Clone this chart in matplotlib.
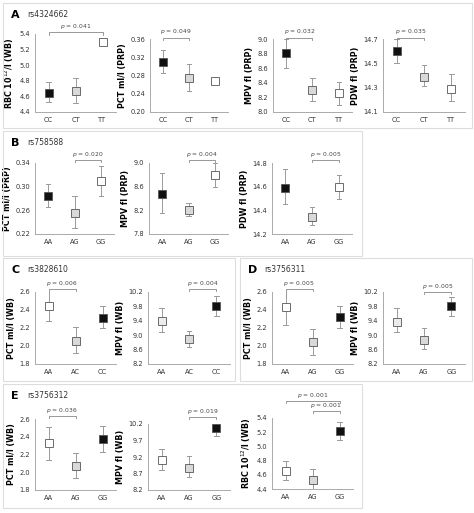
import matplotlib
matplotlib.use("Agg")
import matplotlib.pyplot as plt
from matplotlib.patches import Rectangle

W, H = 474, 513
fig = plt.figure(figsize=(W/100, H/100), dpi=100)
fig.patch.set_facecolor("white")

BLACK, GREY, WHITE = "#111111", "#d9d9d9", "#ffffff"

# ---- data: (means, lows, highs, colours) ----
A_cats = ["CC", "CT", "TT"]
A_rbc_mean = [4.65, 4.67, 5.30]; A_rbc_lo = [4.53, 4.52, 5.30]; A_rbc_hi = [4.79, 4.83, 5.30]
A_pct_mean = [0.310, 0.274, 0.268]; A_pct_lo = [0.285, 0.245, 0.268]; A_pct_hi = [0.335, 0.305, 0.268]
A_mpv_mean = [8.81, 8.30, 8.26]; A_mpv_lo = [8.60, 8.15, 8.10]; A_mpv_hi = [9.00, 8.46, 8.41]
A_pdw_mean = [14.60, 14.39, 14.29]; A_pdw_lo = [14.50, 14.31, 14.19]; A_pdw_hi = [14.70, 14.49, 14.41]
A_colors = [BLACK, GREY, WHITE]

B_cats = ["AA", "AG", "GG"]
B_pct_mean = [0.284, 0.255, 0.310]; B_pct_lo = [0.265, 0.230, 0.285]; B_pct_hi = [0.305, 0.285, 0.335]
B_mpv_mean = [8.48, 8.20, 8.80]; B_mpv_lo = [8.16, 8.10, 8.60]; B_mpv_hi = [8.83, 8.33, 9.00]
B_pdw_mean = [14.59, 14.34, 14.60]; B_pdw_lo = [14.45, 14.28, 14.50]; B_pdw_hi = [14.75, 14.43, 14.70]
B_colors = [BLACK, GREY, WHITE]

C_cats = ["AA", "AC", "CC"]
C_pct_mean = [2.45, 2.06, 2.31]; C_pct_lo = [2.28, 1.92, 2.20]; C_pct_hi = [2.62, 2.21, 2.45]
C_mpv_mean = [9.40, 8.90, 9.82]; C_mpv_lo = [9.08, 8.67, 9.53]; C_mpv_hi = [9.76, 9.13, 10.08]

D_cats = ["AA", "AG", "GG"]
D_pct_mean = [2.43, 2.04, 2.32]; D_pct_lo = [2.23, 1.90, 2.20]; D_pct_hi = [2.63, 2.19, 2.45]
D_mpv_mean = [9.38, 8.86, 9.80]; D_mpv_lo = [9.08, 8.62, 9.53]; D_mpv_hi = [9.76, 9.20, 10.05]

E_cats = ["AA", "AG", "GG"]
E_pct_mean = [2.33, 2.07, 2.37]; E_pct_lo = [2.14, 1.93, 2.23]; E_pct_hi = [2.51, 2.22, 2.52]
E_mpv_mean = [9.12, 8.86, 10.08]; E_mpv_lo = [8.80, 8.60, 9.85]; E_mpv_hi = [9.45, 9.22, 10.30]
E_rbc_mean = [4.66, 4.53, 5.21]; E_rbc_lo = [4.53, 4.40, 5.09]; E_rbc_hi = [4.79, 4.68, 5.35]
WB_colors = [WHITE, GREY, BLACK]
WB_colors2 = ["#ececec", GREY, BLACK]

def box(x0, y0, x1, y1, label, rs):
    fig.patches.append(Rectangle((x0/W, 1-y1/H), (x1-x0)/W, (y1-y0)/H,
                                 transform=fig.transFigure, fill=False,
                                 edgecolor="#dddddd", lw=0.8))
    fig.text((x0+8)/W, 1-(y0+12)/H, label, fontsize=8, fontweight="bold", va="center")
    fig.text((x0+24)/W, 1-(y0+12)/H, rs, fontsize=5.5, va="center", color="#333333")

def panel(xs, xe, ytop, ybot, cats, mean, lo, hi, colors, ylim, ticks, ylabel, pvals, tickfmt):
    ax = fig.add_axes([xs/W, 1-ybot/H, (xe-xs)/W, (ybot-ytop)/H])
    x = list(range(len(cats)))
    for i in x:
        ax.plot([i, i], [lo[i], hi[i]], color="#9a9a9a", lw=0.7, zorder=1)
        for v in (lo[i], hi[i]):
            ax.plot([i-0.08, i+0.08], [v, v], color="#9a9a9a", lw=0.7, zorder=1)
        ax.plot(i, mean[i], marker="s", ms=6, mfc=colors[i], mec="#555555", mew=0.6, zorder=3)
    ax.set_xlim(-0.5, len(cats)-0.5)
    ax.set_ylim(*ylim)
    ax.set_yticks(ticks)
    ax.set_yticklabels([tickfmt.format(t) for t in ticks])
    ax.set_xticks(x)
    ax.set_xticklabels(cats)
    ax.tick_params(labelsize=4.8, length=0, pad=3.5, colors="#333333")
    for s in ("top", "right"):
        ax.spines[s].set_visible(False)
    for s in ("left", "bottom"):
        ax.spines[s].set_color("#aaaaaa"); ax.spines[s].set_linewidth(0.7)
    ax.set_ylabel(ylabel, fontsize=5.8, fontweight="bold", labelpad=2.5)
    for (a, b, yf, txt) in pvals:
        ax.plot([a, a, b, b], [yf-0.03, yf, yf, yf-0.03], color="#888888", lw=0.6,
                transform=ax.get_xaxis_transform(), clip_on=False)
        ax.text((a+b)/2, yf+0.015, r"$p$ = " + txt, fontsize=4.3, ha="center", va="bottom",
                color="#444444", transform=ax.get_xaxis_transform(), clip_on=False)
    return ax

# A
box(3, 3, 472, 128, "A", "rs4324662")
panel(35, 116, 34, 112, A_cats, A_rbc_mean, A_rbc_lo, A_rbc_hi, A_colors, (4.4, 5.4),
      [4.4, 4.6, 4.8, 5.0, 5.2, 5.4], "RBC 10$^{12}$/l (WB)", [(0, 2, 1.02, "0.041")], "{:.1f}")
panel(150, 228, 39, 112, A_cats, A_pct_mean, A_pct_lo, A_pct_hi, A_colors, (0.20, 0.36),
      [0.20, 0.24, 0.28, 0.32, 0.36], "PCT ml/l (PRP)", [(0, 1, 1.02, "0.049")], "{:.2f}")
panel(273, 352, 39, 112, A_cats, A_mpv_mean, A_mpv_lo, A_mpv_hi, A_colors, (8.0, 9.0),
      [8.0, 8.2, 8.4, 8.6, 8.8, 9.0], "MPV fl (PRP)", [(0, 1, 1.02, "0.032")], "{:.1f}")
panel(383, 465, 39, 112, A_cats, A_pdw_mean, A_pdw_lo, A_pdw_hi, A_colors, (14.1, 14.7),
      [14.1, 14.3, 14.5, 14.7], "PDW fl (PRP)", [(0, 1, 1.02, "0.035")], "{:.1f}")

# B
box(3, 131, 362, 256, "B", "rs758588")
panel(35, 114, 163, 234, B_cats, B_pct_mean, B_pct_lo, B_pct_hi, B_colors, (0.22, 0.34),
      [0.22, 0.26, 0.30, 0.34], "PCT ml/l (PRP)", [(1, 2, 1.04, "0.020")], "{:.2f}")
panel(149, 228, 163, 234, B_cats, B_mpv_mean, B_mpv_lo, B_mpv_hi, B_colors, (7.8, 9.0),
      [7.8, 8.2, 8.6, 9.0], "MPV fl (PRP)", [(1, 2, 1.04, "0.004")], "{:.1f}")
panel(272, 352, 163, 234, B_cats, B_pdw_mean, B_pdw_lo, B_pdw_hi, B_colors, (14.2, 14.8),
      [14.2, 14.4, 14.6, 14.8], "PDW fl (PRP)", [(1, 2, 1.04, "0.005")], "{:.1f}")

# C
box(3, 258, 235, 381, "C", "rs3828610")
panel(35, 116, 292, 364, C_cats, C_pct_mean, C_pct_lo, C_pct_hi, WB_colors, (1.8, 2.6),
      [1.8, 2.0, 2.2, 2.4, 2.6], "PCT ml/l (WB)", [(0, 1, 1.04, "0.006")], "{:.1f}")
panel(148, 230, 292, 364, C_cats, C_mpv_mean, C_mpv_lo, C_mpv_hi, WB_colors2, (8.2, 10.2),
      [8.2, 8.6, 9.0, 9.4, 9.8, 10.2], "MPV fl (WB)", [(1, 2, 1.04, "0.004")], "{:.1f}")

# D
box(240, 258, 472, 381, "D", "rs3756311")
panel(272, 353, 292, 364, D_cats, D_pct_mean, D_pct_lo, D_pct_hi, WB_colors, (1.8, 2.6),
      [1.8, 2.0, 2.2, 2.4, 2.6], "PCT ml/l (WB)", [(0, 1, 1.04, "0.005")], "{:.1f}")
panel(383, 465, 292, 364, D_cats, D_mpv_mean, D_mpv_lo, D_mpv_hi, WB_colors2, (8.2, 10.2),
      [8.2, 8.6, 9.0, 9.4, 9.8, 10.2], "MPV fl (WB)", [(1, 2, 1.0, "0.005")], "{:.1f}")

# E
box(3, 384, 362, 508, "E", "rs3756312")
panel(35, 116, 419, 490, E_cats, E_pct_mean, E_pct_lo, E_pct_hi, WB_colors, (1.8, 2.6),
      [1.8, 2.0, 2.2, 2.4, 2.6], "PCT ml/l (WB)", [(0, 1, 1.04, "0.036")], "{:.1f}")
panel(148, 230, 424, 490, E_cats, E_mpv_mean, E_mpv_lo, E_mpv_hi, WB_colors, (8.2, 10.2),
      [8.2, 8.7, 9.2, 9.7, 10.2], "MPV fl (WB)", [(1, 2, 1.10, "0.019")], "{:.1f}")
panel(272, 353, 418, 489, E_cats, E_rbc_mean, E_rbc_lo, E_rbc_hi, WB_colors, (4.4, 5.4),
      [4.4, 4.6, 4.8, 5.0, 5.2, 5.4], "RBC 10$^{12}$/l (WB)",
      [(0, 2, 1.24, "0.001"), (1, 2, 1.10, "0.001")], "{:.1f}")

fig.savefig("out.png", dpi=100, facecolor="white")
